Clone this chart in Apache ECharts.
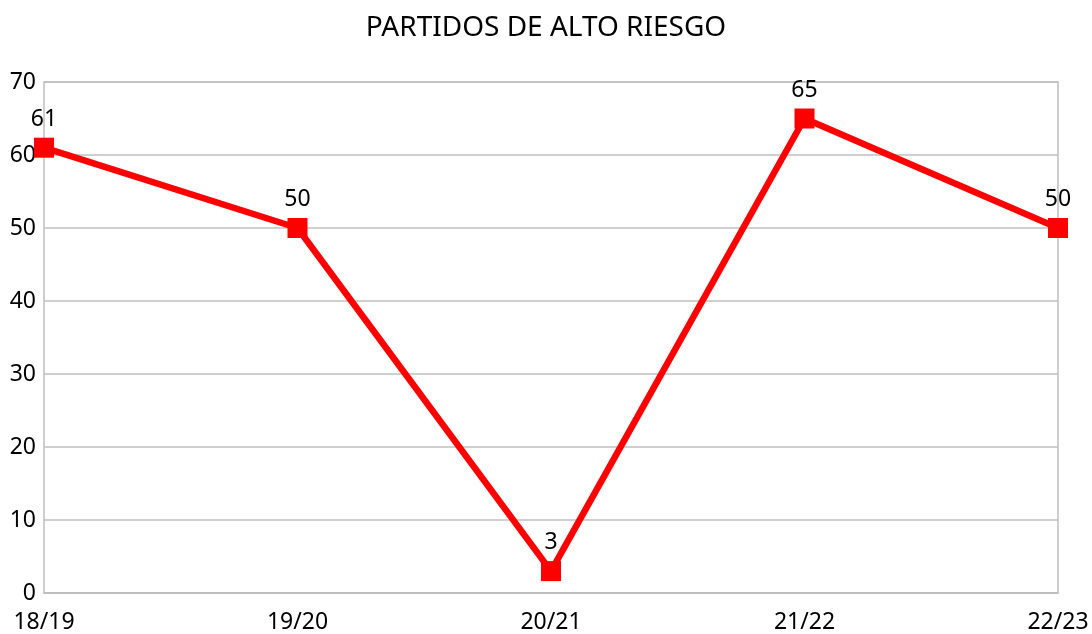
<html lang="es">
<head>
  <meta charset="UTF-8">
  <title>Partidos de alto riesgo</title>
  <style>
    * { margin: 0; padding: 0; }
    body { background: #fff; }
    #main { width: 1092px; height: 634px; }
  </style>
</head>
<body>
  <div id="main"></div>
  <script src="https://cdn.jsdelivr.net/npm/echarts@6/dist/echarts.min.js"></script>
  <script>
  var temporadas = ['18/19', '19/20', '20/21', '21/22', '22/23'];
  var partidos = [61, 50, 3, 65, 50];
  var fuente = '"Noto Sans", "Liberation Sans", sans-serif';

  var chart = echarts.init(document.getElementById('main'));
  chart.setOption({
    backgroundColor: '#ffffff',
    animation: false,
    title: {
      text: 'PARTIDOS DE ALTO RIESGO',
      left: 'center',
      top: 9,
      textStyle: { fontFamily: fuente, fontSize: 28, fontWeight: 'normal', color: '#000' }
    },
    grid: {
      left: 44, right: 34, top: 82, bottom: 41,
      outerBoundsMode: 'none',
      containLabel: false,
      show: true, borderColor: '#bfbfbf', borderWidth: 1.5
    },
    xAxis: {
      type: 'category',
      data: temporadas,
      boundaryGap: false,
      axisLine: { lineStyle: { color: '#bfbfbf', width: 1.5 } },
      axisTick: { show: false },
      axisLabel: { color: '#000', fontFamily: fuente, fontSize: 23, margin: 18 },
      splitLine: { show: false }
    },
    yAxis: {
      type: 'value',
      min: 0, max: 70, interval: 10,
      axisLine: { show: false },
      axisTick: { show: false },
      axisLabel: { color: '#000', fontFamily: fuente, fontSize: 23, margin: 8 },
      splitLine: { lineStyle: { color: '#bfbfbf', width: 1.5 } }
    },
    series: [{
      type: 'line',
      data: partidos,
      symbol: 'rect',
      symbolSize: 20,
      showAllSymbol: true,
      lineStyle: { color: '#ff0000', width: 6.5 },
      itemStyle: { color: '#ff0000' },
      label: {
        show: true,
        position: 'top',
        distance: 7,
        color: '#000',
        fontFamily: fuente,
        fontSize: 23
      }
    }]
  });
  </script>
</body>
</html>
